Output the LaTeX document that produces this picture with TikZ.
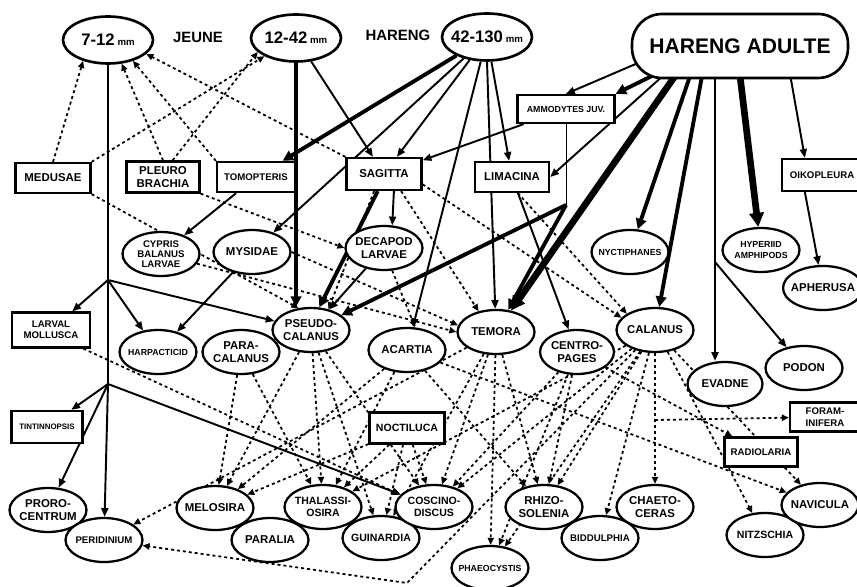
\documentclass[tikz,border=0pt]{standalone}
\usepackage{fontspec}
\setmainfont{Liberation Sans}
\usetikzlibrary{arrows.meta,shapes.geometric}
\pgfdeclarelayer{bg}
\pgfsetlayers{bg,main}
\newcommand{\lb}[1]{\fontsize{#1}{#1}\selectfont\bfseries}
\newcommand{\mmunit}{{\fontsize{5.5}{5.5}\selectfont mm}}

\begin{document}
\begin{tikzpicture}[
   x=0.02cm, y=-0.02cm,
   sp/.style={draw, ellipse, fill=white, line width=1.3pt, inner sep=-14pt,
      minimum width=1.54cm, minimum height=0.88cm, align=center, font=\lb{6.5}},
   bx/.style={draw, fill=white, line width=1.3pt, inner sep=1pt,
      minimum width=1.5cm, minimum height=0.6cm, align=center, font=\lb{6.5}},
   fish/.style={draw, ellipse, fill=white, line width=1.5pt, inner sep=-14pt,
      minimum width=1.8cm, minimum height=0.94cm, font=\lb{9.5}},
   title/.style={font=\lb{8.5}},
   eat/.style={-{Triangle[length=5pt,width=4pt]}, line width=1.1pt},
   big/.style={-{Triangle[length=6pt,width=6pt]}, line width=2.2pt},
   huge/.style={-{Triangle[length=8pt,width=8pt]}, line width=3.8pt},
   dot/.style={-{Triangle[length=4pt,width=3.5pt]}, line width=1pt,
      dash pattern=on 1.7pt off 1.7pt}
]
\useasboundingbox (0,0) rectangle (857,587);

% herring
\node[fish] (j7) at (108,40) {7-12\,\mmunit};
\node[title] (jeune) at (198,37) {JEUNE};
\node[fish] (j12) at (296,38) {12-42\,\mmunit};
\node[title] (hareng) at (398,35) {HARENG};
\node[fish] (j42) at (487,37) {42-130\,\mmunit};
\node[draw, fill=white, line width=1.5pt, rounded corners=0.6cm,
   minimum width=4.32cm, minimum height=1.28cm, font=\lb{12}] (adult)
   at (740,46) {HARENG ADULTE};

% boxes
\node[bx, minimum width=1.94cm, minimum height=0.56cm, font=\lb{5}] (ammo)
   at (566,109) {AMMODYTES JUV.};
\node[bx] (medusae) at (53,178) {MEDUSAE};
\node[bx, minimum width=1.46cm, minimum height=0.62cm] (pleuro)
   at (163,177) {PLEURO\\[1pt]BRACHIA};
\node[bx, minimum width=1.56cm, font=\lb{5.5}] (tomop) at (256,177) {TOMOPTERIS};
\node[bx, minimum height=0.64cm] (sagitta) at (384,174) {SAGITTA};
\node[bx, minimum width=1.48cm] (limacina) at (512,177) {LIMACINA};
\node[bx, minimum width=1.6cm, minimum height=0.64cm, font=\lb{5.5}] (oiko)
   at (822,175) {OIKOPLEURA};
\node[bx, minimum width=1.56cm, minimum height=0.7cm, font=\lb{5.5}] (larval)
   at (51,330) {LARVAL\\[1pt]MOLLUSCA};
\node[bx, minimum width=1.42cm, minimum height=0.64cm, font=\lb{4.5}] (tint)
   at (47,427) {TINTINNOPSIS};
\node[bx, minimum height=0.62cm, font=\lb{6}] (noct) at (407,428) {NOCTILUCA};
\node[bx, minimum width=1.4cm, minimum height=0.58cm, font=\lb{5.5}] (foram)
   at (825,417) {FORAM-\\[1pt]INIFERA};
\node[bx, minimum width=1.46cm, minimum height=0.58cm, font=\lb{5.5}] (radio)
   at (761,452) {RADIOLARIA};

% zooplankton
\node[sp, font=\lb{5.5}] (cypris) at (161,254) {CYPRIS\\BALANUS\\LARVAE};
\node[sp] (mysidae) at (252,252) {MYSIDAE};
\node[sp] (decapod) at (384,248) {DECAPOD\\[1pt]LARVAE};
\node[sp, font=\lb{5}] (nycti) at (630,252) {NYCTIPHANES};
\node[sp, font=\lb{5}] (hyper) at (761,250) {HYPERIID\\[1pt]AMPHIPODS};
\node[sp, minimum width=1.6cm] (apher) at (823,288) {APHERUSA};
\node[sp, font=\lb{5}] (harpact) at (158,352) {HARPACTICID};
\node[sp] (paracal) at (241,352) {PARA-\\[1pt]CALANUS};
\node[sp] (pseudo) at (311,330) {PSEUDO-\\[1pt]CALANUS};
\node[sp] (acartia) at (407,350) {ACARTIA};
\node[sp] (temora) at (496,332) {TEMORA};
\node[sp, minimum width=1.48cm] (centro) at (577,352) {CENTRO-\\[1pt]PAGES};
\node[sp] (calanus) at (655,330) {CALANUS};
\node[sp, minimum width=1.5cm] (evadne) at (725,384) {EVADNE};
\node[sp] (podon) at (804,368) {PODON};

% phytoplankton
\node[sp] (proro) at (48,510) {PRORO-\\[1pt]CENTRUM};
\node[sp, font=\lb{5.5}] (peri) at (104,540) {PERIDINIUM};
\node[sp] (paralia) at (270,540) {PARALIA};
\node[sp] (melos) at (215,508) {MELOSIRA};
\node[sp, font=\lb{6}] (guin) at (381,538) {GUINARDIA};
\node[sp, font=\lb{6}] (thalas) at (323,507) {THALASSI-\\[1pt]OSIRA};
\node[sp, font=\lb{6}] (cosc) at (434,507) {COSCINO-\\[1pt]DISCUS};
\node[sp, font=\lb{5}] (phaeo) at (490,568) {PHAEOCYSTIS};
\node[sp] (rhizo) at (544,507) {RHIZO-\\[1pt]SOLENIA};
\node[sp] (chaeto) at (655,507) {CHAETO-\\[1pt]CERAS};
\node[sp, font=\lb{5.5}] (bidd) at (600,538) {BIDDULPHIA};
\node[sp, font=\lb{6}] (nitz) at (765,535) {NITZSCHIA};
\node[sp] (navic) at (820,505) {NAVICULA};

\begin{pgfonlayer}{bg}
\coordinate (b1) at (108,280);
\coordinate (b2) at (108,384);
\coordinate (am1) at (566,205);
\coordinate (ev1) at (715,262);
\coordinate (cf) at (655,420);
\coordinate (cb) at (407,583);

% herring and larger plankton
\draw[eat] (j7.south) -- (b1) -- (b2) -- (peri);
\draw[eat] (b1) -- (larval);
\draw[eat] (b1) -- (harpact);
\draw[eat] (b1) -- (pseudo);
\draw[eat] (b2) -- (tint);
\draw[eat] (b2) -- (proro);
\draw[eat] (b2) -- (cosc);
\draw[big] (j12.south) -- (j12.south |- pseudo.north);
\draw[eat] (j12) -- (sagitta);
\draw[big] (j42) -- (tomop);
\draw[eat] (j42) -- (mysidae);
\draw[eat] (j42) -- (sagitta);
\draw[eat] (j42) -- (acartia);
\draw[eat] (j42.south) -- (temora);
\draw[eat] (j42) -- (limacina);
\draw[eat] (tomop) -- (cypris);
\draw[big] (sagitta.-110) -- (pseudo.70);
\draw[eat] (sagitta.-60) -- (decapod.70);
\draw[eat] (decapod) -- (pseudo);
\draw[eat] (mysidae) -- (harpact);
\draw[eat] (ammo) -- (sagitta);
\draw (ammo.south) -- (am1);
\draw[big] (am1) -- (pseudo);
\draw[big] (am1) -- (temora);
\draw[eat] (limacina) -- (centro);
\draw[eat] ([shift={(-95,14)}]adult.center) -- (ammo.north);
\draw[big] ([shift={(-80,26)}]adult.center) -- (ammo.north east);
\draw[eat] ([shift={(-75,28)}]adult.center) -- (limacina.east);
\draw[huge] ([shift={(-65,30)}]adult.center) -- (temora);
\draw[big] ([shift={(-50,30)}]adult.center) -- (nycti);
\draw[big] ([shift={(-38,30)}]adult.center) -- (calanus);
\draw[eat] ([shift={(-25,30)}]adult.center) -- (ev1) -- (ev1 |- evadne.north);
\draw[eat] (ev1) -- (podon);
\draw[huge] ([shift={(0,30)}]adult.center) -- (hyper);
\draw[eat] ([shift={(50,28)}]adult.center) -- (oiko.135);
\draw[eat] (oiko.-135) -- (apher);

% enemies of the young herring
\draw[dot] (medusae.north) -- (j7.220);
\draw[dot] (medusae.north east) -- (j12.210);
\draw[dot] (pleuro.north) -- (j7.-60);
\draw[dot] (pleuro.60) -- (j12.200);
\draw[dot] (tomop.north west) -- (j7.-40);
\draw[dot] (sagitta.north west) -- (j7.-20);

% plankton food
\draw[dot] (medusae.south east) -- (pseudo.120);
\draw[dot] (pleuro.south east) -- (decapod.west);
\draw[dot] (cypris.-15) -- (temora.west);
\draw[dot] (mysidae.east) -- (temora.170);
\draw[dot] (sagitta.-120) -- (pseudo.50);
\draw[dot] (sagitta.-45) -- (temora.130);
\draw[dot] (sagitta.-15) -- (calanus.160);
\draw[dot] (limacina.-70) -- (calanus.150);
\draw[dot] (decapod.-70) -- (acartia.70);
\draw[dot] (larval.-30) -- (cosc.160);
\draw[dot] (pseudo) -- (melos);
\draw[dot] (pseudo) -- (thalas);
\draw[dot] (pseudo) -- (cosc);
\draw[dot] (pseudo) -- (guin);
\draw[dot] (paracal) -- (melos);
\draw[dot] (paracal) -- (thalas);
\draw[dot] (acartia) -- (melos);
\draw[dot] (acartia.-120) -- (thalas.60);
\draw[dot] (acartia) -- (rhizo);
\draw[dot] (acartia) -- (navic);
\draw[dot] (temora) -- (peri);
\draw[dot] (temora) -- (cosc);
\draw[dot] (temora) -- (guin);
\draw[dot] (temora) -- (rhizo);
\draw[dot] (temora) -- (phaeo);
\draw[dot] (centro) -- (cosc);
\draw[dot] (centro) -- (rhizo);
\draw[dot] (centro) -- (phaeo);
\draw[dot] (centro) -- (radio);
\draw[dot] (calanus) -- (thalas);
\draw[dot] (calanus) -- (cosc);
\draw[dot] (calanus) -- (rhizo);
\draw[dot] (calanus) -- (phaeo);
\draw[dot] (calanus) -- (bidd);
\draw[dot] (calanus) -- (chaeto);
\draw[dot] (cf) -- (foram);
\draw[dot] (calanus.-60) -- (nitz.120);
\draw[dot] (calanus) -- (navic);
\draw[dot] (calanus) -- (cb) -- (peri);
\draw[dot] (noct) -- (thalas);
\draw[dot] (noct) -- (guin);
\draw[dot] (noct) -- (cosc);
\draw[dot] (noct) -- (melos);
\end{pgfonlayer}
\end{tikzpicture}
\end{document}
